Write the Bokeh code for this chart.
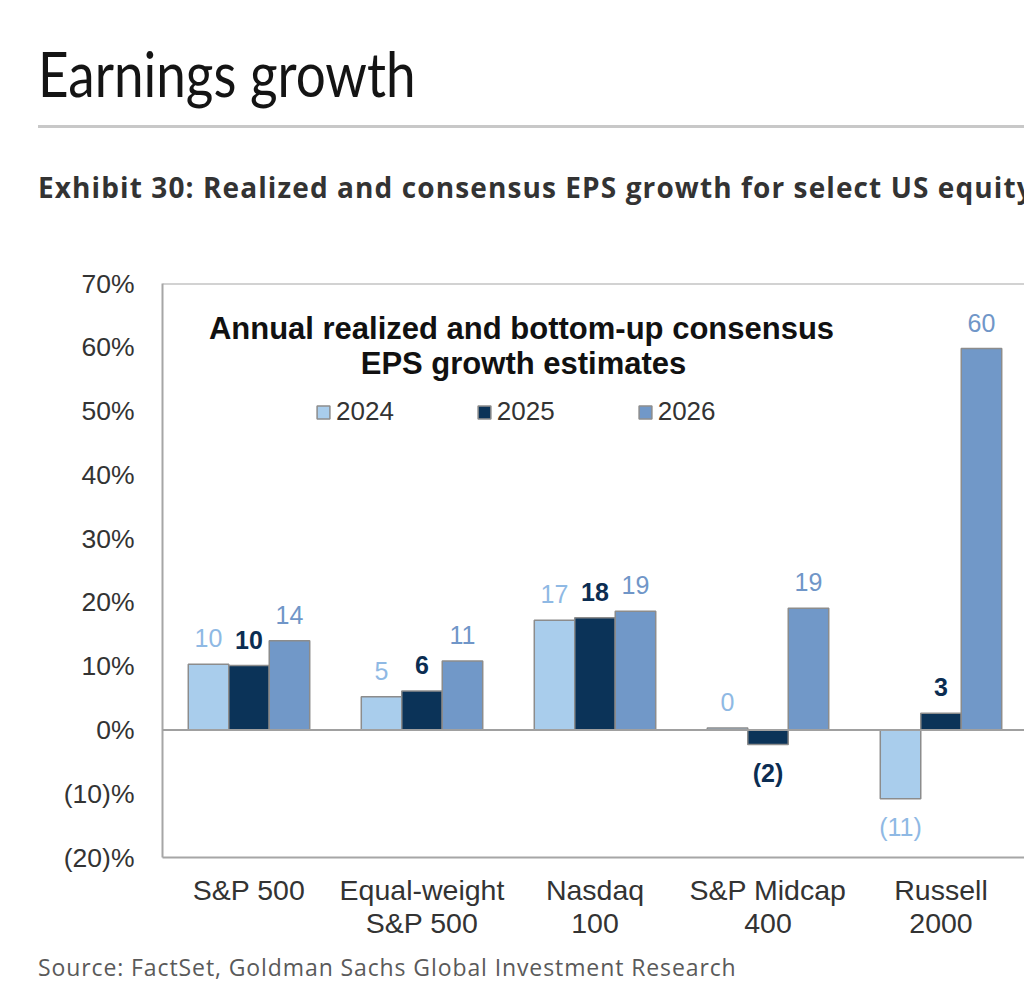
from bokeh.plotting import figure
from bokeh.layouts import column
from bokeh.models import (ColumnDataSource, Range1d, FixedTicker, Span, Label, LabelSet,
                          Legend, LegendItem, Div)
from bokeh.transform import dodge
from bokeh.core.properties import value
from bokeh.embed import file_html
from bokeh.resources import INLINE

# ---------------- data ----------------
categories = ["S&P 500", "Equal-weight\nS&P 500", "Nasdaq\n100", "S&P Midcap\n400", "Russell\n2000"]
years = ["2024", "2025", "2026"]
eps_2024 = [10.3, 5.2, 17.2, 0.3, -10.8]
eps_2025 = [10.1, 6.1, 17.6, -2.3, 2.6]
eps_2026 = [14.0, 10.8, 18.6, 19.1, 59.8]
y_ticks = [-20, -10, 0, 10, 20, 30, 40, 50, 60, 70]

title_text = "Earnings growth"
subtitle_text = "Exhibit 30: Realized and consensus EPS growth for select US equity indices"
chart_title_1 = "Annual realized and bottom-up consensus"
chart_title_2 = "EPS growth estimates"
source_text = "Source: FactSet, Goldman Sachs Global Investment Research"

# ---------------- layout constants ----------------
W = 1024
HEAD_H, MAIN_H, FOOT_H = 240, 705, 55
FRAME_L = 162
FRAME_T = 283 - HEAD_H
FRAME_B = 857 - HEAD_H
PX_PER_CAT = 173.0
X_END = (W - FRAME_L) / PX_PER_CAT
Y0, Y1 = -20, 70
px_per_y = (FRAME_B - FRAME_T) / (Y1 - Y0)


def px_to_x(px):
    return (px - FRAME_L) / PX_PER_CAT


def py_to_y(py):
    return Y1 + (FRAME_T - (py - HEAD_H)) / px_per_y


def fmt_tick(v):
    return f"({abs(v)})%" if v < 0 else f"{v}%"


def fmt_label(v):
    r = int(round(v))
    return f"({abs(r)})" if r < 0 else str(r)


# ---------------- header ----------------
head_html = f"""
<div style="position:relative;width:{W}px;height:{HEAD_H}px;overflow:hidden;background:#ffffff;">
  <div style="position:absolute;left:38px;top:42px;font-family:'Lato';font-size:62px;line-height:1;
              transform:scaleX(0.855);transform-origin:left top;
              color:#141414;white-space:nowrap;">{title_text}</div>
  <div style="position:absolute;left:38px;top:125px;width:{W - 38}px;height:2.5px;background:#c8c8c8;"></div>
  <div style="position:absolute;left:38px;top:173px;font-family:'Open Sans';font-weight:bold;
              font-size:28px;letter-spacing:1.1px;line-height:1;color:#333333;white-space:nowrap;">{subtitle_text}</div>
</div>
"""
head = Div(text=head_html, width=W, height=HEAD_H, margin=(0, 0, 0, 0))

# ---------------- main chart ----------------
x_pos = [i + 0.5 for i in range(len(categories))]

fills = ["#a9cdec", "#0b3358", "#7198c8"]
label_colors = ["#8fb9e4", "#0b2d52", "#7096c8"]
label_styles = ["normal", "bold", "normal"]
offsets = [-0.234, 0.0, 0.234]
bar_w = 0.234

p = figure(width=W, height=MAIN_H, x_range=Range1d(0, X_END), y_range=Range1d(Y0, Y1),
           output_backend="svg", toolbar_location=None,
           min_border_left=FRAME_L, min_border_right=0, min_border_top=FRAME_T,
           min_border_bottom=MAIN_H - FRAME_B)
p.grid.visible = False
p.outline_line_color = None
p.background_fill_color = "white"
p.border_fill_color = "white"

ya = p.yaxis[0]
ya.ticker = FixedTicker(ticks=y_ticks)
ya.major_label_overrides = {t: fmt_tick(t) for t in y_ticks}
ya.major_tick_line_color = None
ya.minor_tick_line_color = None
ya.axis_line_color = "#a6a6a6"
ya.axis_line_width = 2
ya.major_label_standoff = 22
ya.major_label_text_font = "Liberation Sans"
ya.major_label_text_font_size = "26.5px"
ya.major_label_text_color = "#333333"

xa = p.xaxis[0]
xa.ticker = FixedTicker(ticks=x_pos)
xa.major_label_overrides = {x: c for x, c in zip(x_pos, categories)}
xa.major_tick_line_color = None
xa.minor_tick_line_color = None
xa.axis_line_color = "#a6a6a6"
xa.axis_line_width = 2
xa.major_label_standoff = 10
xa.major_label_text_font = "Liberation Sans"
xa.major_label_text_font_size = "28.5px"
xa.major_label_text_line_height = 1.05
xa.major_label_text_color = "#333333"

p.add_layout(Span(location=Y1, dimension="width", line_color="#a6a6a6", line_width=2))
p.add_layout(Span(location=0, dimension="width", line_color="#a0a0a0", line_width=2))

renderers = []
for yr, vals, fc, lc, fs, off in zip(years, [eps_2024, eps_2025, eps_2026], fills,
                                     label_colors, label_styles, offsets):
    src = ColumnDataSource(dict(
        x=x_pos, value=vals,
        label=[fmt_label(v) for v in vals],
        yoff=[26 if v >= 0 else -28 for v in vals],
    ))
    r = p.vbar(x=dodge("x", off), top="value", bottom=0, width=bar_w, source=src,
               fill_color=fc, line_color="#8c8c8c", line_width=1.5)
    renderers.append(r)
    p.add_layout(LabelSet(x=dodge("x", off), y="value", text="label", y_offset="yoff",
                          source=src, text_align="center", text_baseline="middle",
                          text_font=value("Liberation Sans"),
                          text_font_size=value("25px"), text_font_style=fs,
                          text_color=lc))

legend = Legend(items=[LegendItem(label=yr, renderers=[r]) for yr, r in zip(years, renderers)],
                orientation="horizontal", location=(315 - FRAME_L, FRAME_B - (427 - HEAD_H)),
                glyph_width=16, glyph_height=16, label_standoff=5, spacing=82,
                padding=0, margin=0, border_line_color=None, background_fill_alpha=0,
                label_text_font="Liberation Sans", label_text_font_size="26px",
                label_text_color="#333333")
p.add_layout(legend)

p.add_layout(Label(x=px_to_x(521), y=py_to_y(328), text=chart_title_1, text_align="center",
                   text_baseline="middle", text_font="Liberation Sans", text_font_size="31px",
                   text_font_style="bold", text_color="#111111"))
p.add_layout(Label(x=px_to_x(523), y=py_to_y(363), text=chart_title_2, text_align="center",
                   text_baseline="middle", text_font="Liberation Sans", text_font_size="31px",
                   text_font_style="bold", text_color="#111111"))

# ---------------- footer ----------------
foot_html = f"""
<div style="position:relative;width:{W}px;height:{FOOT_H}px;overflow:hidden;background:#ffffff;">
  <div style="position:absolute;left:38px;top:11px;font-family:'Open Sans';font-size:23px;line-height:1;
              letter-spacing:0.9px;color:#5a5a5a;white-space:nowrap;">{source_text}</div>
</div>
"""
foot = Div(text=foot_html, width=W, height=FOOT_H, margin=(0, 0, 0, 0))

page = column(head, p, foot, spacing=0)
open("out.html", "w").write(file_html(page, INLINE))
